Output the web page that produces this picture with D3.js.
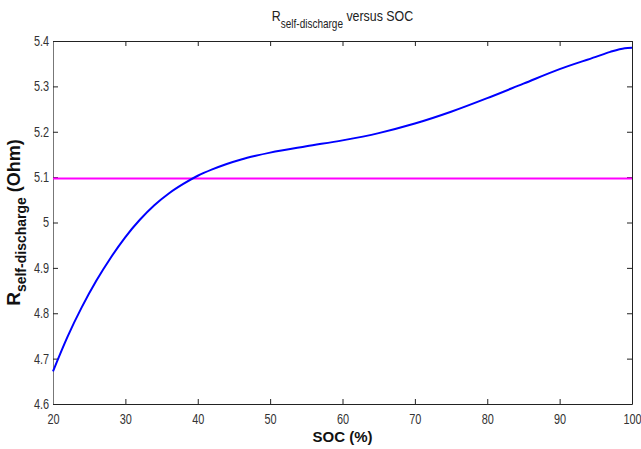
<!DOCTYPE html>
<html>
<head>
<meta charset="utf-8">
<script src="https://cdn.jsdelivr.net/npm/d3@7"></script>
<style>
  body { margin: 0; background: #fff; }
  text { font-family: "Liberation Sans", Arial, sans-serif; }
</style>
</head>
<body>
<div id="chart"></div>
<script>
// SOC (%) and self-discharge resistance (Ohm)
const soc = [20, 22, 24, 26, 28, 30, 32, 34, 36, 38, 40, 42, 44, 46, 48, 50, 55, 60, 65, 70, 75, 80, 85, 90, 95, 97, 99, 100];
const rSelf = [4.672, 4.748, 4.814, 4.872, 4.923, 4.968, 5.006, 5.038, 5.064, 5.085, 5.103, 5.117, 5.129, 5.139, 5.147, 5.154, 5.168, 5.181, 5.197, 5.218, 5.244, 5.274, 5.306, 5.338, 5.365, 5.376, 5.384, 5.385];
const rRef = 5.097;
const xTicks = [20, 30, 40, 50, 60, 70, 80, 90, 100];
const yTicks = [4.6, 4.7, 4.8, 4.9, 5, 5.1, 5.2, 5.3, 5.4];

const width = 641, height = 449;
const margin = {top: 41, right: 9, bottom: 45, left: 53};
const squeeze = 0.78;   // the original's text is narrow

const svg = d3.select("#chart").append("svg")
    .attr("width", width)
    .attr("height", height);

let x = d3.scaleLinear().domain([20, 100]).range([margin.left, width - margin.right]);
let y = d3.scaleLinear().domain([4.6, 5.4]).range([height - margin.bottom, margin.top]);

// axes, MATLAB-style box with inward ticks
const tickLen = 5;
const gx = svg.append("g")
    .attr("transform", `translate(0,${height - margin.bottom})`)
    .call(d3.axisBottom(x).tickValues(xTicks).tickSizeInner(-tickLen).tickSizeOuter(0).tickPadding(10).tickFormat(d3.format("d")));
svg.append("g")
    .attr("transform", `translate(0,${margin.top})`)
    .call(d3.axisTop(x).tickValues(xTicks).tickSizeInner(-tickLen).tickSizeOuter(0).tickFormat(""));
const gy = svg.append("g")
    .attr("transform", `translate(${margin.left},0)`)
    .call(d3.axisLeft(y).tickValues(yTicks).tickSizeInner(-tickLen).tickSizeOuter(0).tickFormat(d => d3.format("")(d)));
svg.append("g")
    .attr("transform", `translate(${width - margin.right},0)`)
    .call(d3.axisRight(y).tickValues(yTicks).tickSizeInner(-tickLen).tickSizeOuter(0).tickFormat(""));

svg.selectAll(".domain").attr("stroke", "#222");
gy.select(".domain").attr("stroke", "#777");
svg.selectAll(".tick line").attr("stroke", "#222");
svg.selectAll(".tick text")
    .attr("font-size", 14)
    .attr("fill", "#333")
    .attr("font-family", "'Liberation Sans', Arial, sans-serif");
gx.selectAll(".tick text").attr("transform", `scale(${squeeze},1)`);
gy.selectAll(".tick text")
    .attr("x", -5)
    .attr("transform", `scale(${squeeze},1)`);

// horizontal reference line
svg.append("line")
    .attr("x1", x(20)).attr("x2", x(100))
    .attr("y1", y(rRef)).attr("y2", y(rRef))
    .attr("stroke", "#ff00ff")
    .attr("stroke-width", 2);

// the curve
let line = d3.line()
    .x((d, i) => x(soc[i]))
    .y(d => y(d))
    .curve(d3.curveMonotoneX);
svg.append("path")
    .datum(rSelf)
    .attr("d", line)
    .attr("fill", "none")
    .attr("stroke", "#0000ff")
    .attr("stroke-width", 2);

// title
const title = svg.append("text")
    .attr("transform", `translate(${(x(20) + x(100)) / 2},21) scale(0.8,1)`)
    .attr("text-anchor", "middle")
    .attr("font-size", 15.5)
    .attr("fill", "#222");
title.append("tspan").text("R");
title.append("tspan").attr("font-size", 12.5).attr("dy", 7).text("self-discharge");
title.append("tspan").attr("dy", -7).text(" versus SOC");

// x label
svg.append("text")
    .attr("x", (x(20) + x(100)) / 2)
    .attr("y", 442)
    .attr("text-anchor", "middle")
    .attr("font-size", 15)
    .attr("font-weight", "bold")
    .attr("fill", "#111")
    .text("SOC (%)");

// y label
const ylab = svg.append("text")
    .attr("transform", `translate(20,${(y(4.6) + y(5.4)) / 2}) rotate(-90)`)
    .attr("text-anchor", "middle")
    .attr("font-size", 19)
    .attr("font-weight", "bold")
    .attr("fill", "#111");
ylab.append("tspan").text("R");
ylab.append("tspan").attr("font-size", 14).attr("dy", 6).text("self-discharge");
ylab.append("tspan").attr("font-size", 18).attr("dy", -6).text(" (Ohm)");
</script>
</body>
</html>
